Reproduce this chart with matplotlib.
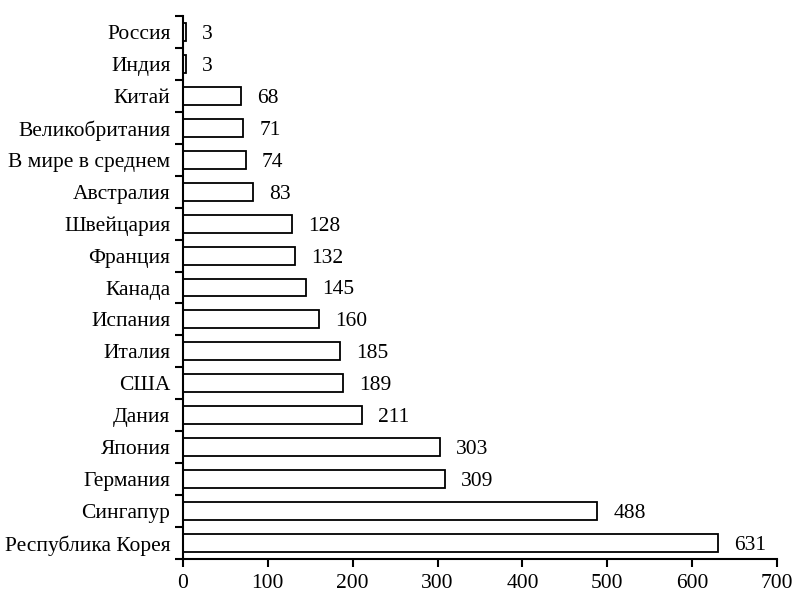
import numpy as np
import matplotlib
matplotlib.use('Agg')
import matplotlib.pyplot as plt

plt.rcParams['font.family'] = ['Liberation Serif', 'DejaVu Serif']

countries = ["Республика Корея", "Сингапур", "Германия", "Япония", "Дания", "США",
             "Италия", "Испания", "Канада", "Франция", "Швейцария", "Австралия",
             "В мире в среднем", "Великобритания", "Китай", "Индия", "Россия"]
values = [631, 488, 309, 303, 211, 189, 185, 160, 145, 132, 128, 83, 74, 71, 68, 3, 3]

fig = plt.figure(figsize=(7.95, 5.93), dpi=100)
ax = fig.add_axes([183/795, 34/593, 594/795, 543/593])

y = np.arange(len(values))
ax.barh(y, values, height=0.56, color='white', edgecolor='black', linewidth=1.3)
for yi, v in zip(y, values):
    ax.text(v + 19, yi, str(v), va='center_baseline', ha='left', fontsize=15.5)

ax.set_xlim(0, 700)
ax.set_ylim(-0.5, len(values) - 0.5)
ax.set_xticks(range(0, 701, 100))
ax.set_yticks(np.arange(-0.5, len(values), 1.0))
ax.set_yticklabels([])
ax.set_yticks(y, minor=True)
ax.set_yticklabels(countries, minor=True, fontsize=15.5)
for lab in ax.get_yticklabels(minor=True):
    lab.set_va('center_baseline')
ax.tick_params(axis='y', which='minor', length=0, pad=9)
ax.tick_params(axis='y', which='major', direction='out', length=6, width=1.5)
ax.tick_params(axis='x', direction='out', length=6, width=1.5, labelsize=15.5, pad=5)

for s in ['top', 'right']:
    ax.spines[s].set_visible(False)
for s in ['left', 'bottom']:
    ax.spines[s].set_linewidth(1.5)

fig.savefig('out.png', dpi=100)
